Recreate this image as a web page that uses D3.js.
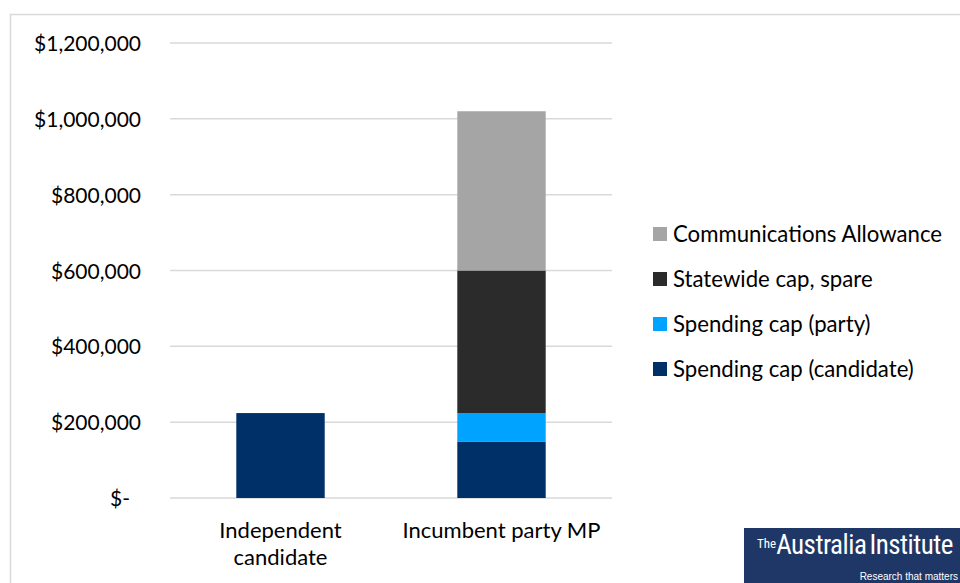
<!DOCTYPE html>
<html>
<head>
<meta charset="utf-8">
<script src="https://cdn.jsdelivr.net/npm/d3@7"></script>
<style>
  html, body { margin: 0; padding: 0; background: #fff; }
  svg { display: block; }
  text { font-family: Lato, "Open Sans", sans-serif; fill: #000; }
</style>
</head>
<body>
<svg id="chart" width="960" height="583"></svg>
<script>
// Campaign spending capacity, by candidate type
const categories = ["Independent candidate", "Incumbent party MP"];
const categoryLines = [["Independent", "candidate"], ["Incumbent party MP"]];
const seriesNames = ["Spending cap (candidate)", "Spending cap (party)", "Statewide cap, spare", "Communications Allowance"];
const candidateCap = [224000, 148000];
const partyCap = [0, 76000];
const statewideSpare = [0, 376000];
const commsAllowance = [0, 420000];
const tickValues = [0, 200000, 400000, 600000, 800000, 1000000, 1200000];
const tickLabels = ["$-", "$200,000", "$400,000", "$600,000", "$800,000", "$1,000,000", "$1,200,000"];
const seriesColors = ["#003068", "#00A3FF", "#2B2B2B", "#A5A5A5"];

const svg = d3.select("#chart");

// chart frame (extends past the page edge at right and bottom)
svg.append("rect")
  .attr("x", 10.5).attr("y", 14.5)
  .attr("width", 1000).attr("height", 1000)
  .attr("fill", "none").attr("stroke", "#D9D9D9").attr("stroke-width", 1.5);

const plot = { left: 170, right: 612, top: 43, bottom: 498 };

const x = d3.scaleBand().domain(categories).range([plot.left, plot.right]).paddingInner(0.6).paddingOuter(0.3);
const y = d3.scaleLinear().domain([0, 1200000]).range([plot.bottom, plot.top]);

// gridlines
svg.append("g").selectAll("line").data(tickValues).join("line")
  .attr("x1", plot.left).attr("x2", plot.right)
  .attr("y1", d => y(d)).attr("y2", d => y(d))
  .attr("stroke", "#D9D9D9").attr("stroke-width", 1.5);

// y axis labels
const yAxis = d3.axisLeft(y).tickValues(tickValues)
  .tickFormat((d, i) => tickLabels[i]).tickSize(0).tickPadding(0);
const yg = svg.append("g").attr("transform", `translate(141,0)`).call(yAxis);
yg.select(".domain").remove();
yg.selectAll("text")
  .attr("font-family", "Lato, sans-serif").attr("font-size", 21).attr("fill", "#000")
  .attr("dy", "0.36em")
  .attr("dx", d => d === 0 ? -11 : 0);

// stacked bars
const rows = categories.map((c, i) => ({
  category: c,
  "Spending cap (candidate)": candidateCap[i],
  "Spending cap (party)": partyCap[i],
  "Statewide cap, spare": statewideSpare[i],
  "Communications Allowance": commsAllowance[i]
}));
const stacked = d3.stack().keys(seriesNames)(rows);

svg.append("g").selectAll("g").data(stacked).join("g")
  .attr("fill", (d, i) => seriesColors[i])
  .selectAll("rect").data(d => d.filter(p => p[1] > p[0])).join("rect")
  .attr("x", d => x(d.data.category))
  .attr("width", x.bandwidth())
  .attr("y", d => y(d[1]))
  .attr("height", d => y(d[0]) - y(d[1]));

// category labels
const xl = svg.append("g");
categories.forEach((c, i) => {
  const t = xl.append("text")
    .attr("text-anchor", "middle")
    .attr("font-size", 22)
    .attr("x", x(c) + x.bandwidth() / 2)
    .attr("y", 538);
  categoryLines[i].forEach((line, j) => {
    t.append("tspan").attr("x", x(c) + x.bandwidth() / 2).attr("dy", j === 0 ? 0 : 27).text(line);
  });
});

// legend, listed top-down in reverse stack order
const legendOrder = seriesNames.map((n, i) => ({ name: n, color: seriesColors[i] })).reverse();
const lg = svg.append("g").attr("transform", "translate(653,227)");
const item = lg.selectAll("g").data(legendOrder).join("g")
  .attr("transform", (d, i) => `translate(0,${i * 45})`);
item.append("rect").attr("width", 14).attr("height", 14).attr("fill", d => d.color);
item.append("text").attr("x", 20).attr("y", 7).attr("dy", "0.36em")
  .attr("font-size", 22.2).text(d => d.name);

// publisher badge
const badge = svg.append("g");
badge.append("rect").attr("x", 744).attr("y", 528).attr("width", 220).attr("height", 60).attr("fill", "#1F3767");
const bt = badge.append("text")
  .attr("x", 757).attr("y", 554)
  .style("font-family", "'Liberation Sans Narrow', 'Roboto Condensed', 'Arial Narrow', sans-serif")
  .style("fill", "#fff");
bt.append("tspan").attr("font-size", 13).attr("dy", -6).text("The");
bt.append("tspan").attr("font-size", 27).attr("dy", 6).attr("letter-spacing", -0.5).text("Australia");
bt.append("tspan").attr("font-size", 27).attr("dx", 3).attr("letter-spacing", -0.5).text("Institute");
badge.append("text")
  .attr("x", 958).attr("y", 580).attr("text-anchor", "end")
  .style("font-family", "'Liberation Sans Narrow', 'Arial Narrow', sans-serif")
  .style("fill", "#fff").attr("font-size", 10)
  .text("Research that matters");
</script>
</body>
</html>
